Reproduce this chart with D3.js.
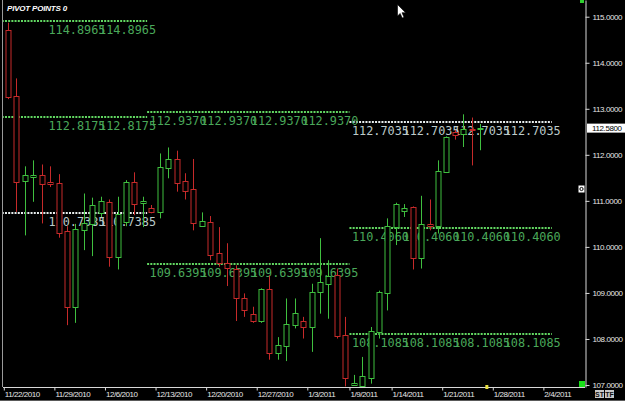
<!DOCTYPE html>
<html>
<head>
<meta charset="utf-8">
<script src="https://cdn.jsdelivr.net/npm/d3@7"></script>
<style>
  html, body { margin: 0; padding: 0; background: #000; overflow: hidden; }
  svg { display: block; }
</style>
</head>
<body>
<svg width="625" height="401"></svg>
<script>
// daily bars, Sun-Fri sessions, one entry per slot starting 11/22/2010
const opens  = [114.71,113.28,111.42,111.52,111.56,111.42,111.39,110.34,108.68,110.35,110.51,110.75,110.98,109.78,110.54,111.41,110.94,110.84,110.76,111.72,111.91,111.43,111.25,110.46,110.54,109.86,109.64,109.53,108.90,108.55,108.39,109.08,107.70,107.85,108.31,108.38,108.28,109.01,109.20,109.39,108.08,107.00,106.99,107.14,108.14,108.99,110.43,110.78,110.86,109.75,110.49,110.45,111.63,112.50,112.47,112.57,112.56];
const highs  = [114.87,113.66,111.75,111.88,111.79,111.75,111.58,110.45,110.50,111.16,111.07,111.09,111.03,111.09,111.45,111.62,111.09,110.91,112.03,112.16,112.09,111.60,111.91,110.75,110.67,110.43,110.08,109.60,108.99,108.70,109.10,109.38,108.04,108.88,108.88,108.48,109.20,110.19,109.71,109.53,108.48,107.22,107.61,108.26,109.05,110.62,110.96,110.93,110.88,111.11,111.03,111.88,112.40,112.54,112.88,112.81,112.67];
const lows   = [113.21,110.76,110.25,110.98,110.51,111.30,110.20,108.30,108.35,109.93,109.80,110.65,109.57,109.51,110.45,110.69,110.43,110.73,110.62,111.49,111.20,111.03,110.36,110.45,109.71,109.57,109.15,108.39,108.48,108.35,108.35,107.55,107.55,107.52,108.23,108.01,107.72,108.55,108.44,108.01,106.97,106.98,106.98,107.03,108.01,108.62,110.04,110.65,109.51,109.53,110.36,110.29,111.61,112.33,112.17,111.77,112.10];
const closes = [113.26,111.41,111.56,111.56,111.36,111.37,110.31,108.68,110.38,110.51,110.92,111.00,109.78,110.72,111.41,110.94,110.99,110.76,111.74,111.91,111.38,111.22,110.51,110.57,109.83,109.64,109.53,108.90,108.65,108.39,109.08,107.70,107.88,108.33,108.57,108.26,109.03,109.23,109.37,108.06,107.14,107.05,107.20,108.17,109.01,110.45,110.94,110.85,109.75,110.49,110.45,111.65,112.39,112.44,112.57,112.54,112.58];

const tickSlots  = [0, 6, 12, 18, 24, 30, 36, 41, 46, 52, 58, 64];
const tickLabels = ["11/22/2010","11/29/2010","12/6/2010","12/13/2010","12/20/2010","12/27/2010","1/3/2011","1/9/2011","1/14/2011","1/21/2011","1/28/2011","2/4/2011"];
const priceTicks = [107, 108, 109, 110, 111, 112, 113, 114, 115];
const lastPrice = 112.58;

// pivot periods (slot ranges) and their levels
const periodStart = [-1, 17, 41];
const periodEnd   = [17, 41, 65];
const pivotLevels = [
  [114.8965, 112.8175, 110.7385],
  [112.9370, 109.6395],
  [112.7035, 110.4060, 108.1085]
];
const pivotKinds = [
  ["sr", "sr", "pp"],
  ["sr", "sr"],
  ["pp", "sr", "sr"]
];
const labelSlots = [5, 11, 17, 23, 29, 35, 41, 47, 53, 59];

const W = 625, H = 401;
const plotLeft = 3, plotRight = 585, plotBottom = 387;

const svg = d3.select("svg");
svg.append("rect").attr("width", W).attr("height", H).attr("fill", "#000");

const x = d3.scaleLinear().domain([0, 65]).range([3.8, 551.8]);
const y = d3.scaleLinear().domain([106.957, 115.363]).range([plotBottom, 0]);
const step = x(1) - x(0);

svg.append("clipPath").attr("id", "plot")
  .append("rect").attr("x", plotLeft).attr("y", 0)
  .attr("width", plotRight - plotLeft).attr("height", plotBottom);

const plot = svg.append("g").attr("clip-path", "url(#plot)");

// pivot lines
const kindLine = { sr: "#62d862", pp: "#e8eeee" };
const kindText = { sr: "#4aa85a", pp: "#bccaca" };

const pivots = [];
pivotLevels.forEach((lv, p) => lv.forEach((v, j) => pivots.push({
  v, kind: pivotKinds[p][j], s: periodStart[p], e: periodEnd[p]
})));

plot.append("g").selectAll("line")
  .data(pivots)
  .enter().append("line")
    .attr("x1", d => x(d.s))
    .attr("x2", d => x(d.e))
    .attr("y1", d => Math.round(y(d.v)))
    .attr("y2", d => Math.round(y(d.v)))
    .attr("stroke", d => kindLine[d.kind])
    .attr("stroke-width", 2)
    .attr("stroke-dasharray", "2,1.2");

const pivotLabels = [];
pivots.forEach(d => labelSlots.forEach(s => {
  if (s >= d.s && s < d.e) pivotLabels.push({ v: d.v, kind: d.kind, s });
}));

plot.append("g").selectAll("text")
  .data(pivotLabels)
  .enter().append("text")
    .attr("x", d => x(d.s) + 2.5)
    .attr("y", d => y(d.v) + 13)
    .attr("fill", d => kindText[d.kind])
    .attr("font-family", "DejaVu Sans Mono, monospace")
    .attr("font-size", 13)
    .attr("textLength", 57)
    .attr("lengthAdjust", "spacingAndGlyphs")
    .text(d => d3.format(".4f")(d.v));

// candles
const candles = opens.map((o, i) => ({ i, o, h: highs[i], l: lows[i], c: closes[i] }));
const up = "#3fbf3f", down = "#c62a2a";

const cg = plot.append("g").selectAll("g")
  .data(candles)
  .enter().append("g")
    .attr("transform", d => `translate(${Math.round(x(d.i) + step / 2) + 0.5},0)`);

cg.append("line")
  .attr("y1", d => y(d.h))
  .attr("y2", d => y(d.l))
  .attr("stroke", d => d.c >= d.o ? up : down);

cg.append("rect")
  .attr("x", -2.5)
  .attr("width", 5)
  .attr("y", d => Math.round(y(Math.max(d.o, d.c))) + 0.5)
  .attr("height", d => Math.max(1, Math.round(Math.abs(y(d.o) - y(d.c)))))
  .attr("fill", "#000")
  .attr("stroke", d => d.c >= d.o ? up : down);

// frame
svg.append("line").attr("x1", plotLeft - 0.5).attr("x2", plotLeft - 0.5)
  .attr("y1", 0).attr("y2", plotBottom).attr("stroke", "#9a9a9a");
svg.append("line").attr("x1", 0).attr("x2", W)
  .attr("y1", 400.5).attr("y2", 400.5).attr("stroke", "#5a5a5a");

// date axis
const xAxis = svg.append("g")
  .attr("transform", `translate(0,${plotBottom + 0.5})`)
  .call(d3.axisBottom(x)
    .tickValues(tickSlots)
    .tickSize(3)
    .tickSizeOuter(0)
    .tickFormat((d, i) => tickLabels[i]));
xAxis.select(".domain").attr("d", `M${plotLeft},0H${plotRight}`).attr("stroke", "#d8d8d8");
xAxis.selectAll(".tick line").attr("stroke", "#d8d8d8");
xAxis.selectAll(".tick text")
  .attr("text-anchor", "start")
  .attr("x", 0.5)
  .attr("y", 4)
  .attr("fill", "#e6e6e6")
  .attr("font-family", "Liberation Sans, Arial, sans-serif")
  .attr("font-size", 8)
  .attr("letter-spacing", -0.45);

// price axis
const yAxis = svg.append("g")
  .attr("transform", `translate(${plotRight + 0.5},0)`)
  .call(d3.axisRight(y)
    .tickValues(priceTicks)
    .tickSize(4)
    .tickPadding(3)
    .tickSizeOuter(0)
    .tickFormat(d3.format(".4f")));
yAxis.select(".domain").attr("stroke", "#d8d8d8");
yAxis.selectAll(".tick line").attr("stroke", "#d8d8d8");
yAxis.selectAll(".tick text")
  .attr("fill", "#e6e6e6")
  .attr("font-family", "Liberation Sans, Arial, sans-serif")
  .attr("font-size", 8)
  .attr("letter-spacing", -0.4);

// last price tag
const tag = svg.append("g").attr("transform", `translate(587,${y(lastPrice)})`);
tag.append("rect").attr("x", 0).attr("y", -4.5).attr("width", 38).attr("height", 9).attr("fill", "#fff");
tag.append("text").attr("x", 5).attr("y", 3)
  .attr("fill", "#000")
  .attr("font-family", "Liberation Sans, Arial, sans-serif")
  .attr("font-size", 8)
  .attr("letter-spacing", -0.4)
  .text(d3.format(".4f")(lastPrice));

// marker on the date axis for the next session
svg.append("rect").attr("x", x(57) + 1).attr("y", plotBottom - 2).attr("width", 3).attr("height", 4).attr("fill", "#e8e040");

// small widgets
svg.append("rect").attr("x", 580).attr("y", 0).attr("width", 4).attr("height", 3).attr("fill", "#2fd02f");
svg.append("rect").attr("x", 579).attr("y", 381).attr("width", 6).attr("height", 6).attr("fill", "#19e019");
svg.append("rect").attr("x", 578.5).attr("y", 185.5).attr("width", 6).attr("height", 7).attr("fill", "#fff");
svg.append("circle").attr("cx", 581.5).attr("cy", 189).attr("r", 1.6).attr("fill", "none").attr("stroke", "#000");

const btn = svg.append("g").attr("font-family", "Liberation Sans, Arial, sans-serif")
  .attr("font-size", 7).attr("font-weight", "bold");
[["ST", 595], ["TF", 605]].forEach(([t, bx]) => {
  btn.append("rect").attr("x", bx).attr("y", 390).attr("width", 9).attr("height", 8).attr("fill", "#c8c8c8");
  btn.append("text").attr("x", bx + 4.5).attr("y", 396.5).attr("text-anchor", "middle").attr("fill", "#111").text(t);
});

// title
svg.append("text")
  .attr("x", 7).attr("y", 11)
  .attr("fill", "#fff")
  .attr("font-family", "Liberation Sans, Arial, sans-serif")
  .attr("font-size", 8)
  .attr("font-weight", "bold")
  .attr("font-style", "italic")
  .attr("letter-spacing", -0.2)
  .text("PIVOT POINTS 0");

// mouse pointer captured in the screenshot
svg.append("path")
  .attr("d", "M397.5,4.5 L397.5,16 L400.2,13.4 L402.2,18 L404,17.2 L402,12.7 L405.6,12.7 Z")
  .attr("fill", "#fff").attr("stroke", "#000").attr("stroke-width", 0.6);
</script>
</body>
</html>
